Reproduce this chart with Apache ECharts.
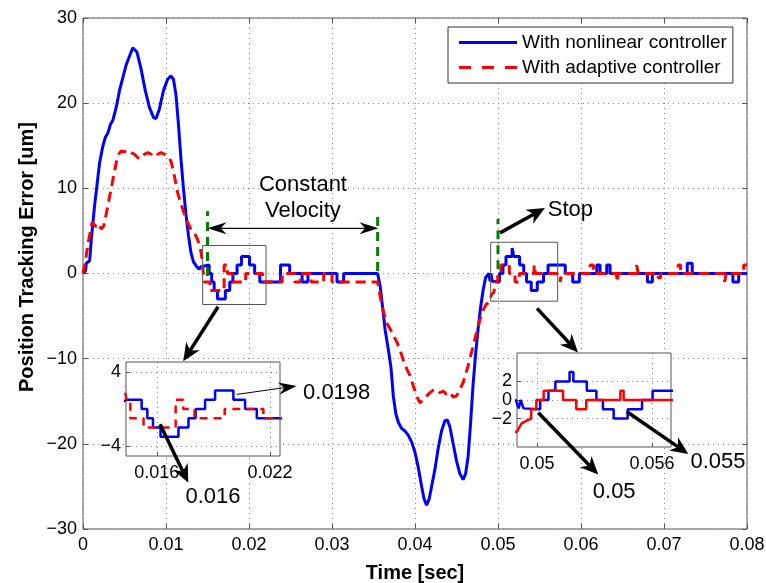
<!DOCTYPE html>
<html>
<head>
<meta charset="utf-8">
<title>Position Tracking Error</title>
<script src="https://cdn.jsdelivr.net/npm/echarts@6/dist/echarts.min.js"></script>
<style>
    html, body { margin: 0; padding: 0; background: #fff; }
    #main { width: 766px; height: 583px; }
</style>
</head>
<body>
<div id="main"></div>
<script>
// nonlinear controller (blue, solid)
var blueT = [0, 0.0003, 0.0004, 0.0008, 0.0010, 0.0012, 0.0014, 0.0017, 0.0020, 0.0024, 0.0027, 0.0030, 0.0033, 0.0036,
    0.0040, 0.0044, 0.0048, 0.0052, 0.0056, 0.0060, 0.0062, 0.0065, 0.0070, 0.0075, 0.0080, 0.0085, 0.0088, 0.0092,
    0.0097, 0.0102, 0.0106, 0.0109, 0.0112, 0.0115, 0.0118, 0.0121, 0.0124, 0.0127, 0.0130, 0.0133, 0.0137, 0.0140,
    0.0142, 0.0144, 0.0152, 0.0152, 0.0155, 0.0155, 0.0158, 0.0158, 0.0162, 0.0162, 0.01715, 0.01715, 0.01768, 0.01768,
    0.01806, 0.01806, 0.01856, 0.01856, 0.01909, 0.01909, 0.02006, 0.02006, 0.02068, 0.02068, 0.0213, 0.0213, 0.0238,
    0.0238, 0.0249, 0.0249, 0.0264, 0.0264, 0.0271, 0.0271, 0.0306, 0.0306, 0.0314, 0.0314, 0.0355, 0.0358, 0.0361,
    0.0364, 0.0368, 0.0371, 0.0374, 0.0377, 0.0380, 0.0384, 0.0388, 0.0392, 0.0396, 0.0400, 0.0404, 0.0408, 0.0411,
    0.0414, 0.0417, 0.0420, 0.0424, 0.0428, 0.0432, 0.0436, 0.0439, 0.0442, 0.0446, 0.0450, 0.0454, 0.0458, 0.0461,
    0.0464, 0.0467, 0.0470, 0.0473, 0.0476, 0.0479, 0.0482, 0.0485, 0.0489, 0.04905, 0.04915, 0.04925, 0.0493, 0.0494,
    0.05017, 0.05017, 0.0506, 0.0506, 0.05096, 0.05096, 0.0517, 0.0517, 0.0519, 0.0519, 0.0526, 0.0526, 0.0531, 0.0531,
    0.05344, 0.05344, 0.054, 0.054, 0.05473, 0.05473, 0.05548, 0.05548, 0.05603, 0.05603, 0.0581, 0.0581, 0.0590, 0.0590,
    0.0598, 0.0598, 0.0619, 0.0619, 0.0623, 0.0623, 0.0631, 0.0631, 0.0635, 0.0635, 0.0680, 0.0680, 0.0686, 0.0686,
    0.0728, 0.0728, 0.0734, 0.0734, 0.0783, 0.0783, 0.0790, 0.0790, 0.0800];
var blueY = [0, 0.3, 1.2, 1.5, 4, 6, 8, 10.5, 13, 15, 16, 16.5, 17.5, 18,
    19.5, 21.5, 23, 24.5, 25.5, 26.5, 26.6, 26, 24, 21.5, 19.5, 18.3, 18.2, 19.3,
    21.5, 22.8, 23.2, 22.8, 21, 17.5, 13.5, 10, 7, 4.5, 2.5, 1.4, 0.8, 0.5,
    0.8, 1, 1, 0, 0, -1, -1, -2, -2, -3, -3, -2, -2, -1,
    -1, 0, 0, 1, 1, 2, 2, 1, 1, 0, 0, -1, -1,
    1, 1, 0, 0, -1, -1, 0, 0, -1, -1, 0, 0, -1.5, -4,
    -6.6, -9, -11, -14.5, -16.5, -17.5, -18.2, -18.5, -19, -19.8, -21, -22.8, -25, -26.5,
    -27.2, -26.5, -25, -23, -20.5, -18.5, -17.3, -17.2, -18, -20, -22, -23.5, -24.2, -23.5,
    -21.5, -17.5, -13, -9.5, -6.5, -4, -2, -0.5, 0, -0.9, 0, 0, -0.9, -1,
    -1, 0, 0, 1, 1, 2, 2, 3, 3, 2, 2, 1, 1, 0,
    0, -1, -1, -2, -2, -1, -1, 0, 0, 1, 1, 0, 0, -1,
    -1, 0, 0, 1, 1, 0, 0, 1, 1, 0, 0, -1, -1, 0,
    0, 1.2, 1.2, 0, 0, -1, -1, 0, 0];

// adaptive controller (red, dashed)
var redT = [0, 0.0003, 0.0006, 0.0009, 0.0011, 0.0013, 0.0016, 0.0019, 0.0022, 0.0025, 0.0028, 0.0031, 0.0034, 0.0037,
    0.0040, 0.0043, 0.0046, 0.0050, 0.0054, 0.0058, 0.0062, 0.0066, 0.0070, 0.0074, 0.0078, 0.0082, 0.0086, 0.0090,
    0.0094, 0.0098, 0.0102, 0.0106, 0.0110, 0.0114, 0.0118, 0.0122, 0.0126, 0.0130, 0.0134, 0.0138, 0.0141, 0.0143,
    0.0144, 0.0146, 0.0146, 0.0153, 0.0153, 0.0170, 0.0170, 0.0174, 0.0174, 0.0180, 0.0180, 0.0196, 0.0196, 0.02165,
    0.02165, 0.0240, 0.0240, 0.0255, 0.0255, 0.0262, 0.0262, 0.0275, 0.0275, 0.0290, 0.0290, 0.0300, 0.0300, 0.0355,
    0.0358, 0.0362, 0.0366, 0.0370, 0.0374, 0.0378, 0.0382, 0.0386, 0.0390, 0.0394, 0.0398, 0.0402, 0.0406, 0.0410,
    0.0414, 0.0418, 0.0422, 0.0426, 0.0430, 0.0434, 0.0438, 0.0442, 0.0446, 0.0450, 0.0454, 0.0458, 0.0462, 0.0466,
    0.0470, 0.0474, 0.0478, 0.0482, 0.0486, 0.04896, 0.0492, 0.0495, 0.0497, 0.0497, 0.04997, 0.04997, 0.05035, 0.05035,
    0.05136, 0.05136, 0.05205, 0.05205, 0.05257, 0.05257, 0.05435, 0.05435, 0.05452, 0.05452, 0.0575, 0.0575, 0.0577, 0.0577,
    0.0611, 0.0611, 0.0615, 0.0615, 0.0643, 0.0643, 0.0645, 0.0645, 0.0667, 0.0667, 0.0669, 0.0669, 0.0693, 0.0693,
    0.0696, 0.0696, 0.0717, 0.0717, 0.0720, 0.0720, 0.0773, 0.0773, 0.0775, 0.0775, 0.0796, 0.0796, 0.0800];
var redY = [0, 1.5, 3.5, 5, 6, 6.2, 5.5, 5.8, 5.2, 5.6, 7, 8.5, 10, 11.5,
    13, 14, 14.4, 14.3, 14.5, 14.2, 14, 13.6, 13.5, 14, 14.2, 14, 14.3, 14,
    14.2, 14, 13.8, 13.2, 11.5, 9.5, 8.2, 7, 6, 5.2, 4.8, 4, 3.2, 2,
    1, 1, -1, -1, -2, -2, 1, 1, 0, 0, -1, -1, 0, 0,
    -1, -1, 0, 0, -1, -1, 0, 0, -1, -1, 0, 0, -1, -1,
    -2.7, -4.5, -5.8, -6.5, -7.3, -8, -9, -10.2, -11.2, -12, -13.2, -14.4, -15.2, -14.8,
    -14.4, -14, -13.7, -13.6, -14, -13.8, -14.2, -14, -14.5, -14.4, -13.6, -12.8, -11.5, -10.1,
    -8.5, -7, -5.5, -4.3, -3.6, -3.4, -2.5, -2.2, -2, -1, -1, 0, 0, 1,
    1, 0, 0, -1, -1, 0, 0, 1, 1, 0, 0, -1, -1, 0,
    0, 1, 1, 0, 0, -1, -1, 0, 0, 1, 1, 0, 0, -0.5,
    -0.5, 0, 0, 1, 1, 0, 0, -1, -1, 0, 0, 1, 1];

var xTicksInset1 = [0.016, 0.022];
var yTicksInset1 = [-4, 4];
var xTicksInset2 = [0.05, 0.056];
var yTicksInset2 = [-2, 0, 2];

var FONT = '"Liberation Sans", Arial, Helvetica, sans-serif';
var BLUE = '#0000ff', RED = '#ff0000';

function pairs(t, v) {
    return t.map(function (x, i) { return [x, v[i]]; });
}
var blueData = pairs(blueT, blueY);
var redData = pairs(redT, redY);

function fmtX(v) { return String(+v.toFixed(4)); }
function fmtY(v) { return String(+v.toFixed(2)).replace('-', '\u2212'); }

// inset axes, ticks only at the given values
function insetX(grid, min, max, ticks) {
    return {
        gridIndex: grid, type: 'value', min: min, max: max, z: 11,
        axisLine: {show: false, onZero: false},
        axisTick: {inside: true, length: 4, customValues: ticks, lineStyle: {color: '#555'}},
        axisLabel: {customValues: ticks, formatter: fmtX, fontSize: 18, color: '#000', margin: 8, fontFamily: FONT},
        splitLine: {show: true, lineStyle: {color: '#888', type: [1, 4]}}
    };
}
function insetY(grid, min, max, ticks) {
    return {
        gridIndex: grid, type: 'value', min: min, max: max, z: 11,
        axisLine: {show: false, onZero: false},
        axisTick: {inside: true, length: 4, customValues: ticks, lineStyle: {color: '#555'}},
        axisLabel: {customValues: ticks, formatter: fmtY, fontSize: 18, color: '#000', margin: 5, fontFamily: FONT},
        splitLine: {show: true, lineStyle: {color: '#888', type: [1, 4]}}
    };
}

var chart = echarts.init(document.getElementById('main'));
var option = {
    animation: false,
    backgroundColor: '#fff',
    textStyle: {fontFamily: FONT},
    grid: [
        {left: 83, right: 19, top: 18, bottom: 54, outerBoundsMode: 'none', containLabel: false,
            show: true, borderColor: '#555', borderWidth: 1, backgroundColor: '#fff'},
        {left: 126, top: 362, width: 154, height: 94, outerBoundsMode: 'none', containLabel: false,
            show: true, borderColor: '#555', borderWidth: 1, backgroundColor: '#fff', z: 10},
        {left: 517, top: 353, width: 154, height: 94, outerBoundsMode: 'none', containLabel: false,
            show: true, borderColor: '#555', borderWidth: 1, backgroundColor: '#fff', z: 10}
    ],
    legend: {
        data: [
            {name: 'With nonlinear controller', icon: 'path://M0,0H58V3H0Z'},
            {name: 'With adaptive controller', icon: 'path://M0,0H12V3H0Z M23,0H35V3H23Z M46,0H58V3H46Z'}
        ],
        orient: 'vertical', left: 448, top: 27,
        itemWidth: 58, itemHeight: 3, itemGap: 6,
        padding: [6, 6, 6, 11],
        borderColor: '#333', borderWidth: 1, backgroundColor: '#fff',
        textStyle: {fontSize: 19, color: '#000', fontFamily: FONT},
        z: 20
    },
    xAxis: [
        {
            gridIndex: 0, type: 'value', min: 0, max: 0.08, interval: 0.01,
            name: 'Time [sec]', nameLocation: 'middle', nameGap: 34,
            nameTextStyle: {fontSize: 20, fontWeight: 'bold', color: '#000', fontFamily: FONT},
            axisLine: {show: false, onZero: false},
            axisTick: {inside: true, length: 5, lineStyle: {color: '#555'}},
            axisLabel: {fontSize: 18, color: '#000', margin: 7, formatter: fmtX, fontFamily: FONT},
            splitLine: {show: true, lineStyle: {color: '#888', type: [1, 4]}}
        },
        {
            gridIndex: 0, type: 'value', position: 'top', min: 0, max: 0.08, interval: 0.01,
            axisLine: {show: false, onZero: false},
            axisTick: {inside: true, length: 5, lineStyle: {color: '#555'}},
            axisLabel: {show: false}, splitLine: {show: false}
        },
        insetX(1, 0.01437, 0.02253, xTicksInset1),
        insetX(2, 0.04896, 0.05699, xTicksInset2)
    ],
    yAxis: [
        {
            gridIndex: 0, type: 'value', min: -30, max: 30, interval: 10,
            axisLine: {show: false, onZero: false},
            axisTick: {inside: true, length: 5, lineStyle: {color: '#555'}},
            axisLabel: {fontSize: 18, color: '#000', margin: 6, formatter: fmtY, fontFamily: FONT},
            splitLine: {show: true, lineStyle: {color: '#888', type: [1, 4]}}
        },
        {
            gridIndex: 0, type: 'value', position: 'right', min: -30, max: 30, interval: 10,
            axisLine: {show: false, onZero: false},
            axisTick: {inside: true, length: 5, lineStyle: {color: '#555'}},
            axisLabel: {show: false}, splitLine: {show: false}
        },
        insetY(1, -5.1, 5.1, yTicksInset1),
        insetY(2, -5.05, 5.05, yTicksInset2)
    ],
    series: [
        {
            name: 'With nonlinear controller', type: 'line', xAxisIndex: 0, yAxisIndex: 0,
            data: blueData, symbol: 'none', z: 3,
            lineStyle: {color: BLUE, width: 3}, itemStyle: {color: BLUE}
        },
        {
            name: 'With adaptive controller', type: 'line', xAxisIndex: 0, yAxisIndex: 0,
            data: redData, symbol: 'none', z: 4,
            lineStyle: {color: RED, width: 3, type: [10, 6]}, itemStyle: {color: RED}
        },
        {
            name: 'inset1 nonlinear', type: 'line', xAxisIndex: 2, yAxisIndex: 2,
            data: blueData, symbol: 'none', z: 12, lineStyle: {color: BLUE, width: 2.5}
        },
        {
            name: 'inset1 adaptive', type: 'line', xAxisIndex: 2, yAxisIndex: 2,
            data: redData, symbol: 'none', z: 12, lineStyle: {color: RED, width: 2.5, type: [8, 6]}
        },
        {
            name: 'inset2 nonlinear', type: 'line', xAxisIndex: 3, yAxisIndex: 3,
            data: blueData, symbol: 'none', z: 12, lineStyle: {color: BLUE, width: 2.5}
        },
        {
            name: 'inset2 adaptive', type: 'line', xAxisIndex: 3, yAxisIndex: 3,
            data: redData, symbol: 'none', z: 13, lineStyle: {color: RED, width: 2.5}
        }
    ]
};
chart.setOption(option);

//---- annotations, placed in the main axes' data units ----
function P(x, y) { return chart.convertToPixel({gridIndex: 0}, [x, y]); }

function arrow(a, b, lw, len, half, both) {
    var dx = b[0] - a[0], dy = b[1] - a[1], d = Math.sqrt(dx * dx + dy * dy);
    var ux = dx / d, uy = dy / d, nx = -uy, ny = ux;
    function head(tip, sx, sy) {
        var bx = tip[0] - sx * len, by = tip[1] - sy * len;
        var mx = tip[0] - sx * len * 0.7, my = tip[1] - sy * len * 0.7;
        return {type: 'polygon', z: 100, silent: true,
            shape: {points: [[tip[0], tip[1]], [bx + nx * half, by + ny * half], [mx, my], [bx - nx * half, by - ny * half]]},
            style: {fill: '#000'}};
    }
    var s = both ? [a[0] + ux * len * 0.6, a[1] + uy * len * 0.6] : a;
    var e = [b[0] - ux * len * 0.6, b[1] - uy * len * 0.6];
    var els = [{type: 'line', z: 100, silent: true,
        shape: {x1: s[0], y1: s[1], x2: e[0], y2: e[1]},
        style: {stroke: '#000', lineWidth: lw}}];
    els.push(head(b, ux, uy));
    if (both) els.push(head(a, -ux, -uy));
    return els;
}
function label(p, txt, align) {
    return {type: 'text', z: 100, silent: true, x: p[0], y: p[1],
        style: {text: txt, fontSize: 22, fontFamily: FONT, fill: '#000', align: align || 'center', verticalAlign: 'middle', lineHeight: 26}};
}
function greenLine(x, y0, y1) {
    var a = P(x, y0), b = P(x, y1);
    return {type: 'line', z: 90, silent: true, shape: {x1: a[0], y1: a[1], x2: b[0], y2: b[1]},
        style: {stroke: '#008000', lineWidth: 3, lineDash: [9, 6]}};
}
function box(x0, x1, y0, y1) {
    var a = P(x0, y1), b = P(x1, y0);
    return {type: 'rect', z: 90, silent: true, shape: {x: a[0], y: a[1], width: b[0] - a[0], height: b[1] - a[1]},
        style: {fill: 'none', stroke: '#555', lineWidth: 1}};
}

var els = [];
els.push(greenLine(0.015, -0.3, 7.3));
els.push(greenLine(0.0355, 0.3, 7.3));
els.push(greenLine(0.05, 0.5, 6.4));
els = els.concat(arrow(P(0.015, 5.3), P(0.0356, 5.3), 1.2, 19, 6, true));
els.push(label(P(0.0265, 8.9), 'Constant\nVelocity'));
els.push(label(P(0.0560, 7.5), 'Stop', 'left'));
els.push(box(0.01442, 0.02205, -3.64, 3.29));
els.push(box(0.04912, 0.05719, -3.25, 3.67));
els = els.concat(arrow(P(0.05024, 4.77), P(0.05566, 7.7), 3.5, 18, 8));
els = els.concat(arrow(P(0.01627, -3.9), P(0.01208, -10.3), 3.5, 18, 8));
els = els.concat(arrow(P(0.0547, -4.1), P(0.05964, -9.27), 3.5, 18, 8));
els = els.concat(arrow(P(0.01851, -14.2), P(0.02574, -13.2), 1, 18, 6));
els = els.concat(arrow(P(0.00928, -17.7), P(0.01269, -24.57), 3.5, 18, 8));
els = els.concat(arrow(P(0.05486, -16.35), P(0.06208, -23.6), 3.5, 18, 8));
els = els.concat(arrow(P(0.0655, -16.2), P(0.07293, -21.2), 3.5, 18, 8));
els.push(label(P(0.02651, -14.0), '0.0198', 'left'));
els.push(label(P(0.01566, -26.2), '0.016'));
els.push(label(P(0.064, -25.6), '0.05'));
els.push(label(P(0.0765, -22.1), '0.055'));
// y axis title
els.push({type: 'text', z: 100, silent: true, x: 27, y: 257, rotation: Math.PI / 2,
    style: {text: 'Position Tracking Error [um]', fontSize: 20, fontWeight: 'bold', fontFamily: FONT,
        fill: '#000', align: 'center', verticalAlign: 'middle'}});

chart.setOption({graphic: els});
</script>
</body>
</html>
